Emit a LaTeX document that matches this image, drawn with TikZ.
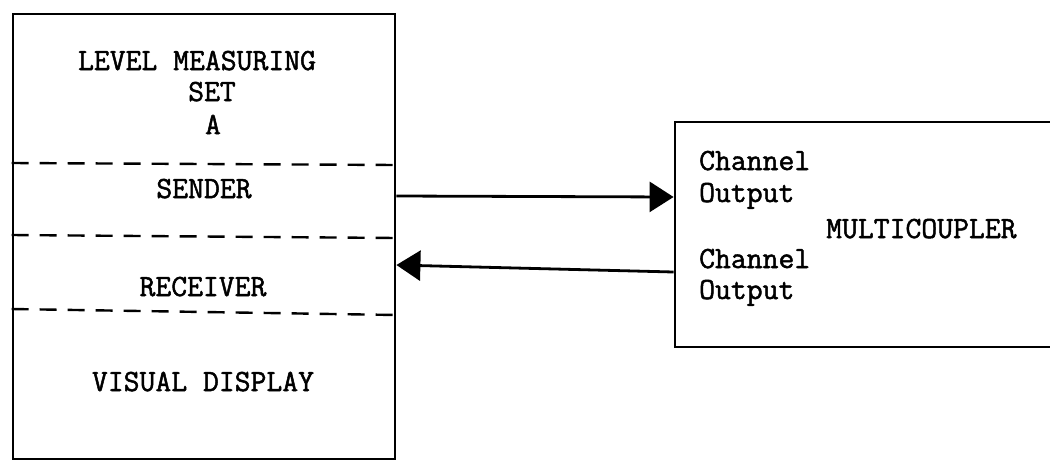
\documentclass[tikz,border=0pt]{standalone}
\usepackage{fontspec}
\newfontfamily\tw{Latin Modern Mono}[RawFeature={embolden=1.6}]
\usetikzlibrary{arrows.meta}
\tikzset{
  box/.style={draw, line width=2.8pt, inner sep=0pt},
  lbl/.style={font=\tw\fontsize{30.8}{35}\selectfont, inner sep=0pt, anchor=base},
  lbll/.style={lbl, anchor=base west},
  divider/.style={line width=2.4pt, dash pattern=on 17pt off 11pt},
  conn/.style={line width=2.8pt, -{Triangle[length=24pt, width=30pt]}}
}
\begin{document}
\begin{tikzpicture}[x=1pt, y=-1pt]
\useasboundingbox (0,0) rectangle (1050,464);
\clip (0,0) rectangle (1050,464);
% boxes
\node[box, minimum width=382pt, minimum height=445pt] (lms) at (204,236.5) {};
\node[box, minimum width=400pt, minimum height=225pt] (mc) at (875,234.5) {};
% dividers
\draw[divider] (lms.west |- 0,163) -- (lms.east |- 0,165);
\draw[divider] (lms.west |- 0,235) -- (lms.east |- 0,238);
\draw[divider] (lms.west |- 0,309) -- (lms.east |- 0,315);
% left texts
\node[lbl] (t1) at (197,70) {LEVEL MEASURING};
\node[lbl] (t2) at (212,101) {SET};
\node[lbl] (t3) at (213,134) {A};
\node[lbl] (t4) at (204,198) {SENDER};
\node[lbl] (t5) at (203,296) {RECEIVER};
\node[lbl] (t6) at (203,391) {VISUAL DISPLAY};
% right texts
\node[lbll] (c1) at (699,170) {Channel};
\node[lbll] (o1) at (699,202) {Output};
\node[lbll] (m) at (826,238) {MULTICOUPLER};
\node[lbll] (c2) at (699,268) {Channel};
\node[lbll] (o2) at (699,299) {Output};
% connectors
\draw[conn] (lms.east |- 0,196) -- (mc.west |- 0,197);
\draw[conn] (mc.west |- 0,272) -- (lms.east |- 0,265);
\end{tikzpicture}
\end{document}
